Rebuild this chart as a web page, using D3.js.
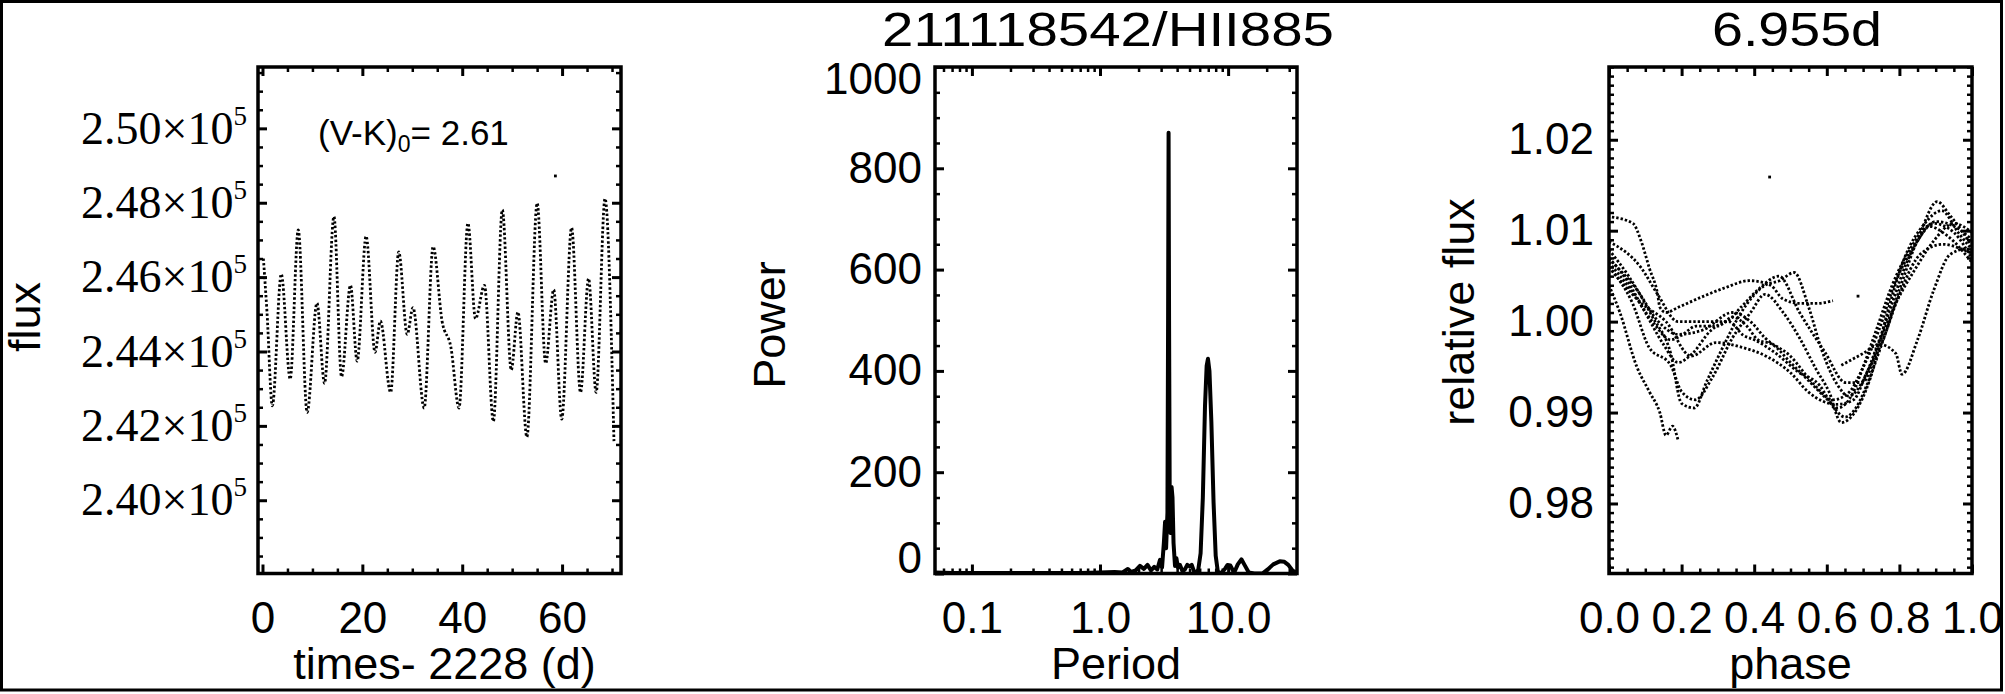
<!DOCTYPE html>
<html><head><meta charset="utf-8">
<script src="https://cdn.jsdelivr.net/npm/d3@7"></script>
<style>body{margin:0;background:#fff}svg{display:block}</style>
</head><body>
<svg id="c" width="2005" height="694"></svg>
<script>
// ---------------- data ----------------
const lcTime = [0.18,0.9,1.97,3.76,5.55,7.16,8.94,10.91,12.43,14.31,15.83,17.62,18.96,20.75,22.54,23.61,25.67,27.28,28.98,30.14,32.38,34.17,35.96,37.75,39.36,41.14,42.66,44.45,46.24,48.03,49.82,51.16,52.95,55.01,56.71,58.32,59.93,61.90,63.69,65.30,66.82,68.60,70.39];
const lcFlux = [246500,245060,242540,246080,243260,247270,242360,245300,243140,247630,243320,245780,243740,247100,243980,244820,242900,246680,244460,245180,242480,246820,244820,244100,242480,247450,244880,245780,242120,247810,243500,245060,241700,247990,243680,245660,242180,247330,242900,245960,242900,248110,241590];
const lcOutlierTime = [58.66];
const lcOutlierFlux = [248720];

const periods = [0.0515,0.07,0.1,0.2,0.4,0.7,1.0,1.3,1.5,1.65,1.75,1.9,2.05,2.2,2.35,2.5,2.65,2.8,2.94,3.05,3.15,3.22,3.28,3.36,3.40,3.43,3.46,3.50,3.55,3.62,3.68,3.75,3.85,3.95,4.05,4.2,4.4,4.6,4.8,5.0,5.2,5.4,5.6,5.85,6.1,6.35,6.6,6.8,6.96,7.15,7.4,7.7,8.0,8.3,8.6,9.0,9.5,9.9,10.4,10.9,11.3,11.9,12.7,13.5,14.5,16,18.5,20.4,22.5,25.3,27.5,29.5,31.8,34.5];
const powers  = [2,1,1,1,1,1,2,3,2,9,3,6,15,9,17,6,13,8,27,12,60,102,50,120,500,870,500,150,80,171,150,60,15,30,12,17,5,8,17,14,17,5,0,8,40,150,330,410,424,400,300,140,35,5,0,3,10,17,16,6,5,18,28,16,2,0,0,8,18,24,23,17,6,1];

const cyclePhases = [
  [0.008,0.066,0.089,0.111,0.134,0.14,0.157,0.192,0.261,0.318,0.387,0.445,0.479,0.525,0.571,0.617],
  [0,0.09,0.157,0.226,0.295,0.364,0.433,0.502,0.548,0.628,0.674,0.709,0.755,0.8,0.858,0.904,0.939,1.0],
  [0,0.054,0.12,0.17,0.2,0.235,0.27,0.32,0.364,0.43,0.47,0.51,0.55,0.585,0.63,0.66,0.7,0.74,0.78,0.82,0.86,0.9,0.95,1.0],
  [0,0.03,0.077,0.111,0.14,0.157,0.175,0.19],
  [0,0.077,0.134,0.19,0.26,0.34,0.39,0.43,0.5,0.56,0.617,0.663,0.698,0.744,0.79,0.836,0.893,0.95,1.0],
  [0,0.065,0.11,0.17,0.2,0.238,0.284,0.34,0.39,0.43,0.48,0.525,0.57,0.606,0.64,0.675,0.72,0.767,0.813,0.87,0.916,0.962,1.0],
  [0.64,0.7,0.745,0.79,0.807,0.85,0.895,0.94,0.985,1.0],
  [0,0.089,0.134,0.19,0.25,0.32,0.364,0.41,0.468,0.525,0.594,0.652,0.698,0.744,0.79,0.847,0.893,0.95,1.0],
  [0,0.06,0.12,0.17,0.2,0.24,0.3,0.34,0.38,0.41,0.45,0.5,0.55,0.6,0.63,0.67,0.7,0.74,0.78,0.83,0.88,0.93,1.0],
  [0,0.05,0.1,0.15,0.19,0.23,0.28,0.33,0.37,0.4,0.46,0.52,0.58,0.62,0.65,0.68,0.71,0.76,0.8,0.86,0.92,0.97,1.0]
];
const cycleFluxes = [
  [1.0115,1.0108,1.0088,1.0059,1.003,1.0016,1.001,1.0016,1.0028,1.0037,1.0045,1.004,1.0025,1.002,1.002,1.0023],
  [1.006,1.002,1.0,0.9962,0.9977,0.9972,0.9962,0.9943,0.9923,0.9909,0.9914,0.9943,0.998,1.0035,1.0098,1.0132,1.0117,1.0083],
  [1.0079,1.005,1.0005,0.9965,0.991,0.9905,0.9935,0.9977,1.001,1.004,1.0045,1.0054,1.0016,0.997,0.993,0.9918,0.9935,0.9975,1.002,1.0065,1.0095,1.011,1.0105,1.009],
  [1.004,1.001,0.995,0.9923,0.99,0.9875,0.9885,0.987],
  [1.0069,1.0035,1.0001,0.9986,0.9991,1.001,1.0,0.9982,0.9962,0.9933,0.9914,0.9923,0.9948,0.9991,1.0045,1.0079,1.0108,1.0098,1.0069],
  [1.006,1.002,0.9972,0.9952,0.9923,0.9914,0.9938,0.9982,1.001,1.003,1.001,0.9982,0.9948,0.9923,0.9889,0.9899,0.9938,1.001,1.0069,1.0108,1.0122,1.0098,1.0079],
  [0.9952,0.9965,0.9975,0.9965,0.9942,0.998,1.0035,1.0074,1.008,1.0075],
  [1.0088,1.0059,1.003,1.0,1.0,1.0,1.0016,1.0035,1.005,1.001,0.9967,0.9933,0.9933,0.9977,1.002,1.006,1.0088,1.0108,1.0098],
  [1.0065,1.0035,1.0,0.998,0.9985,0.9995,0.9995,1.0005,0.9995,0.998,0.9975,0.9955,0.9935,0.9915,0.9905,0.992,0.995,0.9995,1.004,1.008,1.0105,1.0095,1.0065],
  [1.007,1.0045,1.001,0.9975,0.9955,0.9965,0.999,1.0,0.9985,0.998,0.9965,0.9945,0.993,0.9905,0.9895,0.9905,0.993,0.9985,1.003,1.0075,1.0085,1.008,1.0075]
];
const phaseOutlierPhase = [0.4425,0.686];
const phaseOutlierFlux = [1.0159,1.0028];

const timeTicks = [0,20,40,60];
const timeTickLabels = ["0","20","40","60"];
const fluxTicks = [240000,242000,244000,246000,248000,250000];
const fluxTickMantissa = ["2.40","2.42","2.44","2.46","2.48","2.50"];
const fluxTickExponent = "5";
const periodTicks = [0.1,1,10];
const periodTickLabels = ["0.1","1.0","10.0"];
const powerTicks = [0,200,400,600,800,1000];
const powerTickLabels = ["0","200","400","600","800","1000"];
const phaseTicks = [0,0.2,0.4,0.6,0.8,1.0];
const phaseTickLabels = ["0.0","0.2","0.4","0.6","0.8","1.0"];
const relTicks = [0.98,0.99,1.00,1.01,1.02];
const relTickLabels = ["0.98","0.99","1.00","1.01","1.02"];

const titleMiddle = "211118542/HII885";
const titleRight = "6.955d";

// ---------------- layout ----------------
const SANS = "'Liberation Sans', Arial, Helvetica, sans-serif";
const SERIF = "'Liberation Serif', 'Times New Roman', serif";
const svg = d3.select('#c');
const LC = {x0:258, x1:621, y0:67, y1:573.5};
const PG = {x0:935, x1:1297, y0:67, y1:573.5};
const PH = {x0:1609, x1:1972, y0:67, y1:573.5};
const XTITLE_Y = 679;

const lcX = d3.scaleLinear().domain([-0.9, 71.8]).range([LC.x0, LC.x1]);
const lcY = d3.scaleLinear().domain([238030, 251650]).range([LC.y1, LC.y0]);
const pgX = d3.scaleLog().domain([0.0515, 34.5]).range([PG.x0, PG.x1]);
const pgY = d3.scaleLinear().domain([0, 1000]).range([PG.y1, PG.y0]);
const phX = d3.scaleLinear().domain([0, 1]).range([PH.x0, PH.x1]);
const phY = d3.scaleLinear().domain([0.9723, 1.028]).range([PH.y1, PH.y0]);

svg.append('rect').attr('x',1.5).attr('y',1.5).attr('width',2000).attr('height',688.5)
  .attr('fill','none').attr('stroke','#000').attr('stroke-width',3);

function near(v, arr){ return arr.some(a => Math.abs(a - v) < 1e-9 * Math.max(1, Math.abs(a))); }

function panelAxes(box, xs, ys, o){
  const g = svg.append('g');
  const put = (axis, tr, major) => {
    const a = g.append('g').attr('transform', tr).call(axis);
    a.select('.domain').remove();
    a.selectAll('line').attr('stroke','#000').attr('stroke-width', major ? 3 : 2.5);
    a.selectAll('text').attr('fill','#000').attr('font-family', SANS).attr('font-size', 44);
    return a;
  };
  const bx = put(d3.axisBottom(xs).tickValues(o.xMajor).tickSize(-9).tickPadding(28)
      .tickFormat((d,i)=>o.xLabels[i]), `translate(0,${box.y1})`, true);
  put(d3.axisBottom(xs).tickValues(o.xMinor).tickSize(-5).tickFormat(''), `translate(0,${box.y1})`, false);
  put(d3.axisTop(xs).tickValues(o.xMajor).tickSize(-9).tickFormat(''), `translate(0,${box.y0})`, true);
  put(d3.axisTop(xs).tickValues(o.xMinor).tickSize(-5).tickFormat(''), `translate(0,${box.y0})`, false);
  const ly = put(d3.axisLeft(ys).tickValues(o.yMajor).tickSize(-9).tickPadding(o.yPad)
      .tickFormat((d,i)=>o.yLabels ? o.yLabels[i] : ''), `translate(${box.x0},0)`, true);
  put(d3.axisLeft(ys).tickValues(o.yMinor).tickSize(-5).tickFormat(''), `translate(${box.x0},0)`, false);
  put(d3.axisRight(ys).tickValues(o.yMajor).tickSize(-9).tickFormat(''), `translate(${box.x1},0)`, true);
  put(d3.axisRight(ys).tickValues(o.yMinor).tickSize(-5).tickFormat(''), `translate(${box.x1},0)`, false);
  g.append('rect').attr('x',box.x0).attr('y',box.y0).attr('width',box.x1-box.x0).attr('height',box.y1-box.y0)
    .attr('fill','none').attr('stroke','#000').attr('stroke-width',3.5);
  return {bx, ly};
}

function clip(id, box){
  svg.append('clipPath').attr('id', id).append('rect')
    .attr('x',box.x0).attr('y',box.y0).attr('width',box.x1-box.x0).attr('height',box.y1-box.y0);
  return svg.append('g').attr('clip-path', `url(#${id})`);
}

// ---------- Panel 1: light curve ----------
const lcMinorX = d3.range(0, 72, 5).filter(v => !near(v, timeTicks));
const lcMinorY = d3.range(238500, 251650, 500).filter(v => !near(v, fluxTicks));
const p1 = panelAxes(LC, lcX, lcY, {xMajor:timeTicks, xLabels:timeTickLabels, xMinor:lcMinorX,
  yMajor:fluxTicks, yLabels:null, yMinor:lcMinorY, yPad:11});
p1.ly.selectAll('.tick text').each(function(d,i){
  const t = d3.select(this);
  t.text(null).attr('font-family', SERIF).attr('font-size', 46);
  t.append('tspan').text(fluxTickMantissa[i] + '\u00d710');
  t.append('tspan').attr('font-size', 27).attr('dy', -19).text(fluxTickExponent);
});
const g1 = clip('c1', LC);
const lcPts = lcTime.map((t,i)=>[t, lcFlux[i]]);
g1.append('path').datum(lcPts)
  .attr('d', d3.line().x(d=>lcX(d[0])).y(d=>lcY(d[1])).curve(d3.curveMonotoneX))
  .attr('fill','none').attr('stroke','#000').attr('stroke-width',2.8).attr('stroke-dasharray','2.4 2.2');
g1.selectAll('rect.o').data(lcOutlierTime.map((t,i)=>[t, lcOutlierFlux[i]])).enter().append('rect')
  .attr('x', d=>lcX(d[0])-1.4).attr('y', d=>lcY(d[1])-1.4).attr('width',2.8).attr('height',2.8).attr('fill','#000');

svg.append('text').attr('x',318).attr('y',145).attr('font-family',SANS).attr('font-size',35).attr('fill','#000')
  .call(t=>{ t.append('tspan').text('(V-K)'); t.append('tspan').attr('font-size',23).attr('dy',7).text('0');
             t.append('tspan').attr('dy',-7).text('= 2.61'); });

svg.append('text').attr('transform','translate(40,317) rotate(-90)').attr('text-anchor','middle')
  .attr('font-family',SANS).attr('font-size',45).text('flux');
svg.append('text').attr('x',(LC.x0+LC.x1)/2+5).attr('y',XTITLE_Y).attr('text-anchor','middle')
  .attr('font-family',SANS).attr('font-size',45).text('times- 2228 (d)');

// ---------- Panel 2: periodogram ----------
const pgMinorX = pgX.ticks().filter(v => !near(v, periodTicks));
const pgMinorY = d3.range(50, 1000, 50).filter(v => !near(v, powerTicks));
const p2 = panelAxes(PG, pgX, pgY, {xMajor:periodTicks, xLabels:periodTickLabels, xMinor:pgMinorX,
  yMajor:powerTicks, yLabels:powerTickLabels, yMinor:pgMinorY, yPad:13});
p2.ly.selectAll('.tick text').attr('y', d => d === 0 ? -15 : (d === 1000 ? 12 : 0));
const g2 = clip('c2', PG);
g2.append('path').datum(periods.map((p,i)=>[p, powers[i]]))
  .attr('d', d3.line().x(d=>pgX(d[0])).y(d=>pgY(d[1])))
  .attr('fill','none').attr('stroke','#000').attr('stroke-width',4).attr('stroke-linejoin','round');
svg.append('text').attr('transform','translate(785,325) rotate(-90)').attr('text-anchor','middle')
  .attr('font-family',SANS).attr('font-size',45).text('Power');
svg.append('text').attr('x',(PG.x0+PG.x1)/2).attr('y',XTITLE_Y).attr('text-anchor','middle')
  .attr('font-family',SANS).attr('font-size',45).text('Period');
svg.append('text').attr('x',882).attr('y',46)
  .attr('font-family',SANS).attr('font-size',49).attr('textLength',452).attr('lengthAdjust','spacingAndGlyphs')
  .text(titleMiddle);

// ---------- Panel 3: phase ----------
const phMinorX = d3.range(0.05, 1, 0.05).filter(v => !near(v, phaseTicks));
const phMinorY = d3.range(0.973, 1.028, 0.001).filter(v => !relTicks.some(a => Math.abs(a-v) < 1e-4));
panelAxes(PH, phX, phY, {xMajor:phaseTicks, xLabels:phaseTickLabels, xMinor:phMinorX,
  yMajor:relTicks, yLabels:relTickLabels, yMinor:phMinorY, yPad:15});
const g3 = clip('c3', PH);
const phLine = d3.line().x(d=>phX(d[0])).y(d=>phY(d[1])).curve(d3.curveMonotoneX);
g3.selectAll('path.cyc').data(cyclePhases.map((ps,k)=>ps.map((p,i)=>[p, cycleFluxes[k][i]]))).enter()
  .append('path').attr('d', phLine)
  .attr('fill','none').attr('stroke','#000').attr('stroke-width',2.8).attr('stroke-dasharray','2.4 2');
g3.selectAll('rect.o').data(phaseOutlierPhase.map((p,i)=>[p, phaseOutlierFlux[i]])).enter().append('rect')
  .attr('x', d=>phX(d[0])-1.4).attr('y', d=>phY(d[1])-1.4).attr('width',2.8).attr('height',2.8).attr('fill','#000');
svg.append('text').attr('transform','translate(1474,312) rotate(-90)').attr('text-anchor','middle')
  .attr('font-family',SANS).attr('font-size',45).text('relative flux');
svg.append('text').attr('x',(PH.x0+PH.x1)/2).attr('y',XTITLE_Y).attr('text-anchor','middle')
  .attr('font-family',SANS).attr('font-size',45).text('phase');
svg.append('text').attr('x',1712).attr('y',46)
  .attr('font-family',SANS).attr('font-size',49).attr('textLength',170).attr('lengthAdjust','spacingAndGlyphs')
  .text(titleRight);
</script>
</body></html>
